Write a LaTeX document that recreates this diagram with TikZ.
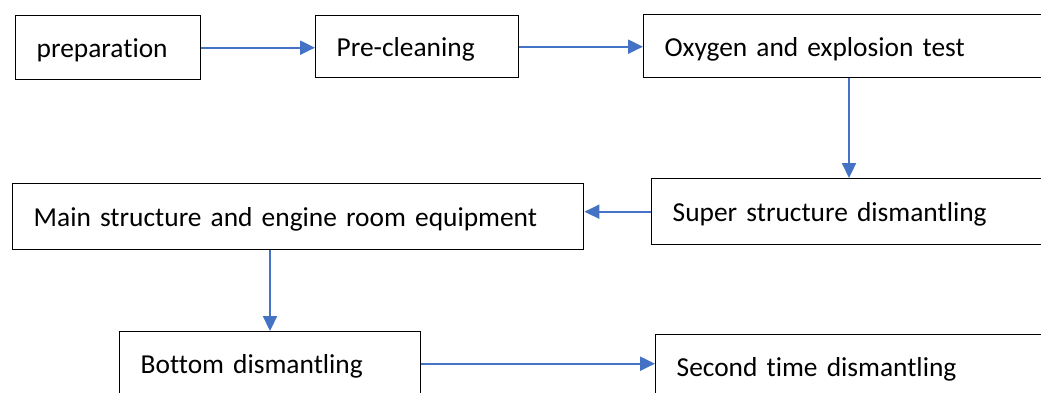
\documentclass[tikz,border=0pt]{standalone}
\usepackage{fontspec}
\setmainfont{Carlito}[Ligatures=CommonOff]
\usetikzlibrary{arrows.meta}
\definecolor{flowblue}{RGB}{68,114,196}
\begin{document}
\begin{tikzpicture}[x=1pt,y=-1pt,
  stepbox/.style={draw=black, line width=1.4pt, rectangle, anchor=north west,
    inner xsep=21pt, inner ysep=0pt, align=left,
    font=\fontsize{27.4}{32}\selectfont, text height=26pt, text depth=6pt},
  flow/.style={draw=flowblue, line width=2.2pt, -{Triangle[length=15pt,width=14pt]}}]
\useasboundingbox (0,0) rectangle (1041,392);
\clip (0,0) rectangle (1041,392);

% process steps
\node[stepbox, minimum width=185pt, minimum height=64pt, text width=143pt] (b1) at (15,15) {preparation};
\node[stepbox, minimum width=203pt, minimum height=62pt, text width=161pt] (b2) at (315,15) {Pre-cleaning};
\node[stepbox, minimum width=420pt, minimum height=63pt, text width=378pt] (b3) at (643,14) {Oxygen and explosion test};
\node[stepbox, minimum width=420pt, minimum height=66pt, text width=378pt] (b4) at (651,178) {Super structure dismantling};
\node[stepbox, minimum width=571pt, minimum height=66pt, text width=529pt] (b5) at (12,183) {Main structure and engine room equipment};
\node[stepbox, minimum width=301pt, minimum height=64pt, text width=259pt] (b6) at (119,331) {Bottom dismantling};
\node[stepbox, minimum width=420pt, minimum height=64pt, text width=378pt] (b7) at (655,334) {Second time dismantling};

% columns of the vertical connectors
\coordinate (x3) at (849,0);
\coordinate (x5) at (270,0);

% connectors
\draw[flow] (b1.east) -- (b1.east -| b2.west);
\draw[flow] (b2.east) -- (b2.east -| b3.west);
\draw[flow] (b3.south -| x3) -- (b4.north -| x3);
\draw[flow] (b4.west) -- (b4.west -| b5.east);
\draw[flow] (b5.south -| x5) -- (b6.north -| x5);
\draw[flow] (b6.east) -- (b6.east -| b7.west);
\end{tikzpicture}
\end{document}
